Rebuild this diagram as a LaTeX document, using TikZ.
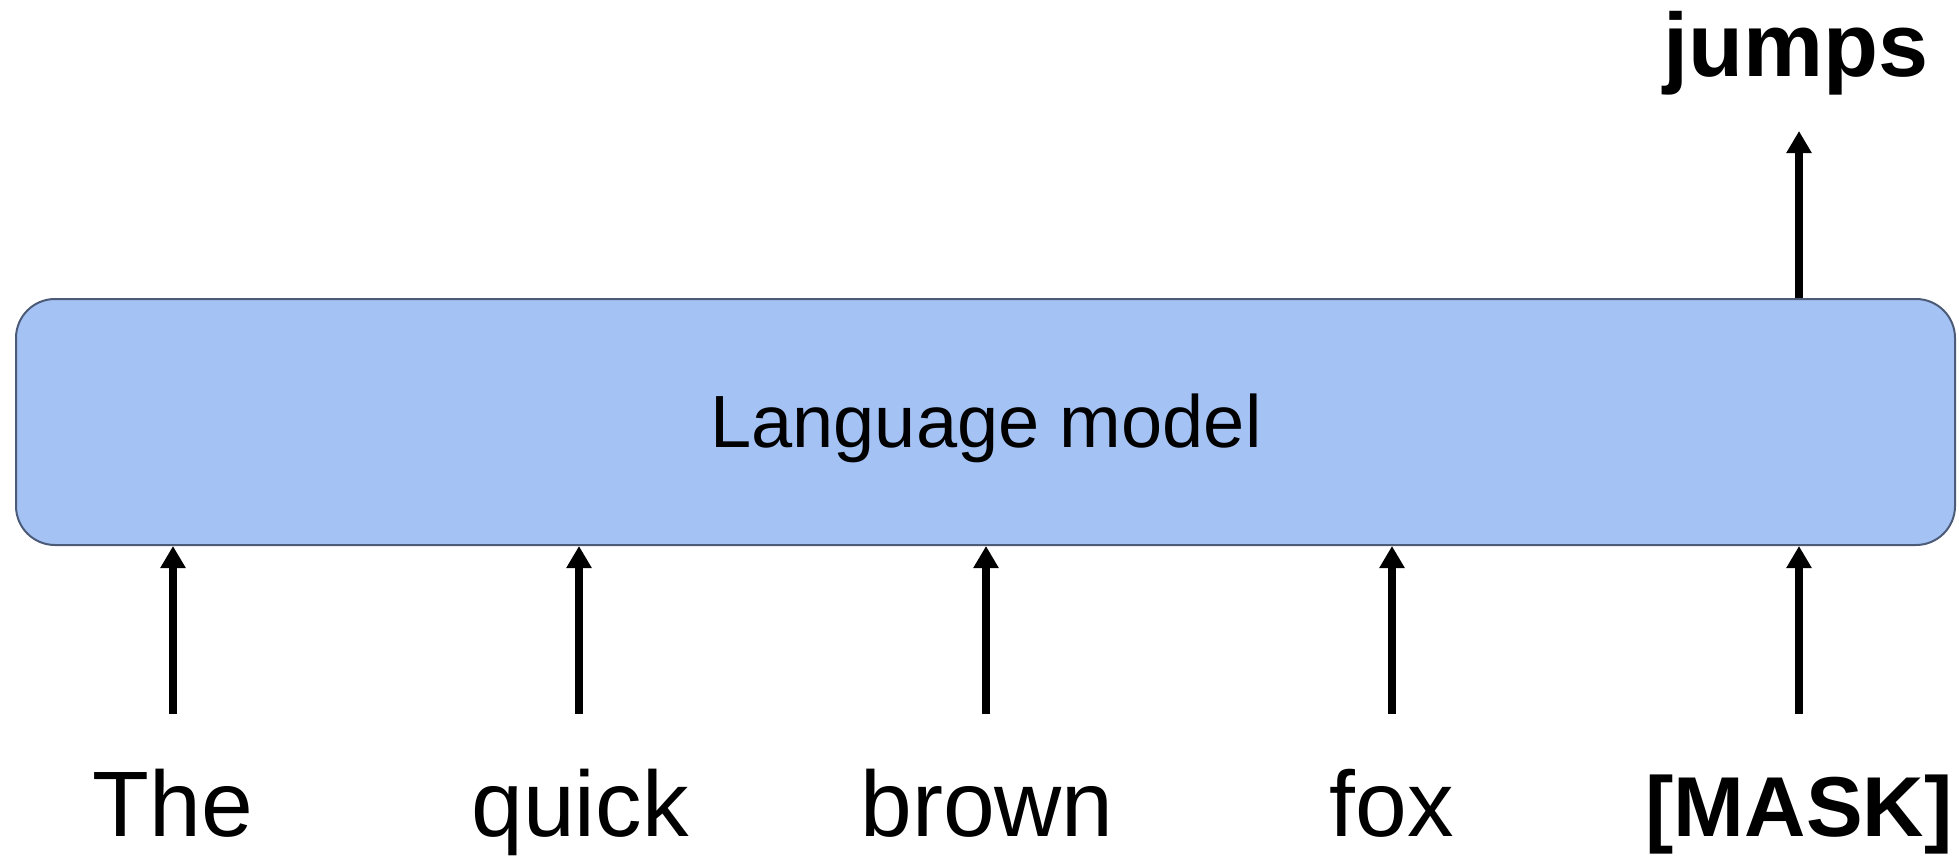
\documentclass[tikz,border=0pt]{standalone}
\usepackage{fontspec}
\setmainfont{Liberation Sans}
\usetikzlibrary{arrows.meta}
\definecolor{boxfill}{HTML}{A4C2F4}
\definecolor{boxline}{HTML}{4C5C78}
\begin{document}
\begin{tikzpicture}[x=1pt,y=-1pt,
  word/.style={anchor=base,inner sep=0pt,font=\fontsize{93}{93}\selectfont},
  boldword/.style={anchor=base,inner sep=0pt,font=\fontsize{90}{90}\selectfont\bfseries},
  arr/.style={line width=8pt,-{Triangle[width=24pt,length=22pt]}},
  lmbox/.style={draw=boxline,fill=boxfill,line width=2pt,rounded corners=39pt,
    minimum width=1939pt,minimum height=246pt,inner sep=0pt}]
\useasboundingbox (0,0) rectangle (1959,856);
\node[lmbox] (lm) at (985.5,422) {};
\node[anchor=base,inner sep=0pt,font=\fontsize{74}{74}\selectfont] (lmtext) at (986,447) {Language model};
\node[word] (wThe) at (173,836) {The};
\node[word] (wquick) at (580,836) {quick};
\node[word] (wbrown) at (987,836) {brown};
\node[word] (wfox) at (1392,836) {fox};
\node[boldword,font=\fontsize{85}{85}\selectfont\bfseries] (wmask) at (1799,836) {[MASK]};
\node[boldword] (wjumps) at (1796,77) {jumps};
\coordinate (sThe) at (173,714);
\coordinate (squick) at (579,714);
\coordinate (sbrown) at (986,714);
\coordinate (sfox) at (1392,714);
\coordinate (smask) at (1799,714);
\coordinate (jtip) at (1799,131);
\foreach \s in {sThe,squick,sbrown,sfox,smask}{
  \draw[arr] (\s) -- (\s |- lm.south);
}
\draw[arr] (jtip |- lm.north) -- (jtip);
\end{tikzpicture}
\end{document}
